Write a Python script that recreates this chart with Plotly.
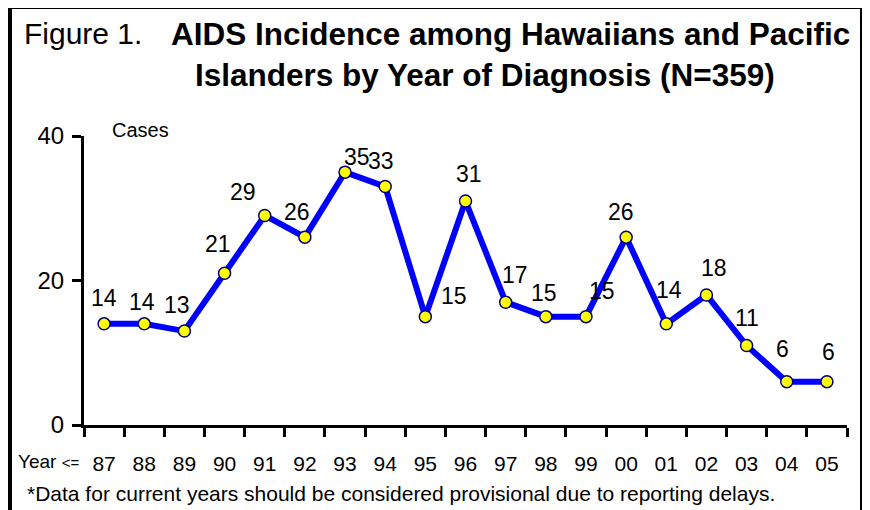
import plotly.graph_objects as go

# ---- data ----
years = ["87", "88", "89", "90", "91", "92", "93", "94", "95", "96",
         "97", "98", "99", "00", "01", "02", "03", "04", "05"]
cases = [14, 14, 13, 21, 29, 26, 35, 33, 15, 31, 17, 15, 15, 26, 14, 18, 11, 6, 6]
y_ticks = [0, 20, 40]

# label offsets in pixels (style only)
label_dx = [0, -2, -7, -7, -22, -8, 12, -4, 29, 3, 9, -2, 16, -5, 3, 8, 0, -4, 2]
label_dy = [-26, -22, -26, -29, -23, -25, -15, -26, -21, -27, -27, -24, -26, -25, -34, -27, -28, -33, -30]

# page has an 8px body margin; work in page pixels and convert
OFF = 8
W, H = 870 - OFF, 510 - OFF
L, R, T, B = 84, 847, 136, 425  # page pixels of the plot area
ARIAL = "Liberation Sans, Arial, sans-serif"


def px(x):
    return (x - L) / (R - L)


def py(y):
    return (B - y) / (B - T)


fig = go.Figure()
fig.add_trace(go.Scatter(
    x=years, y=cases, mode="lines+markers",
    line=dict(color="#0000FF", width=6),
    marker=dict(size=12, color="#FFFF00", line=dict(color="#000080", width=1.5)),
    cliponaxis=False, showlegend=False, hoverinfo="x+y",
))

annotations = []
for i, (v, dx, dy) in enumerate(zip(cases, label_dx, label_dy)):
    annotations.append(dict(
        x=i, y=v, xref="x", yref="y", text=str(v), showarrow=False,
        xshift=dx, yshift=-dy, font=dict(family=ARIAL, size=23, color="black"),
        xanchor="center", yanchor="middle",
    ))

# titles
annotations.append(dict(x=px(22), y=py(34), xref="paper", yref="paper", text="Figure 1.",
                        showarrow=False, xanchor="left", yanchor="middle",
                        font=dict(family=ARIAL, size=30, color="black")))
annotations.append(dict(x=px(169), y=py(34), xref="paper", yref="paper",
                        text="<b>AIDS Incidence among Hawaiians and Pacific</b>",
                        showarrow=False, xanchor="left", yanchor="middle",
                        font=dict(family=ARIAL, size=31.5, color="black")))
annotations.append(dict(x=px(193), y=py(75), xref="paper", yref="paper",
                        text="<b>Islanders by Year of Diagnosis (N=359)</b>",
                        showarrow=False, xanchor="left", yanchor="middle",
                        font=dict(family=ARIAL, size=31.5, color="black")))
# axis caption
annotations.append(dict(x=px(110), y=py(130), xref="paper", yref="paper", text="Cases",
                        showarrow=False, xanchor="left", yanchor="middle",
                        font=dict(family=ARIAL, size=20, color="black")))
annotations.append(dict(x=px(16), y=py(461), xref="paper", yref="paper",
                        text="Year <span style='font-size:15px'>&lt;=</span>",
                        showarrow=False, xanchor="left", yanchor="middle",
                        font=dict(family=ARIAL, size=19, color="black")))
# footnote
annotations.append(dict(x=px(401), y=py(494), xref="paper", yref="paper",
                        text="*Data for current years should be considered provisional due to reporting delays.",
                        showarrow=False, xanchor="center", yanchor="middle",
                        font=dict(family=ARIAL, size=21, color="black")))

shapes = [dict(type="rect", xref="paper", yref="paper",
               x0=px(10), x1=px(862), y0=py(7), y1=py(514),
               line=dict(color="black", width=4), fillcolor="rgba(0,0,0,0)", layer="above")]

fig.update_layout(
    width=W, height=H,
    margin=dict(l=L - OFF, r=W - (R - OFF), t=T - OFF, b=H - (B - OFF)),
    paper_bgcolor="white", plot_bgcolor="white",
    annotations=annotations, shapes=shapes,
    xaxis=dict(type="category", tickson="boundaries", ticks="outside", ticklen=9, tickwidth=3,
               tickcolor="black", showline=True, linecolor="black", linewidth=3,
               showgrid=False, zeroline=False, ticklabelstandoff=18,
               tickfont=dict(family=ARIAL, size=21, color="black"),
               range=[-0.5, 18.5]),
    yaxis=dict(range=[0, 40], tickvals=y_ticks, ticks="outside", ticklen=9, tickwidth=3,
               tickcolor="black", showline=True, linecolor="black", linewidth=3,
               showgrid=False, zeroline=False, ticklabelstandoff=3,
               tickfont=dict(family=ARIAL, size=24, color="black")),
)

fig.write_html("out.html")
